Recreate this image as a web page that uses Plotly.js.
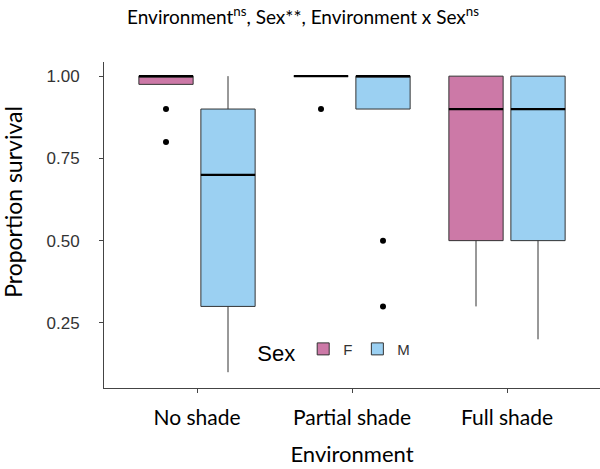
<!DOCTYPE html>
<html>
<head>
<meta charset="utf-8">
<script src="https://cdn.plot.ly/plotly-3.0.1.min.js"></script>
<style>
  html, body { margin: 0; padding: 0; background: #fff; }
  #chart { width: 600px; height: 469px; }
</style>
</head>
<body>
<div id="chart"></div>
<script>
// environments on the x axis
var environments = ["No shade", "Partial shade", "Full shade"];
var sexes = ["F", "M"];

// box stats per sex, one value per environment
var femaleQ1 = [0.975, 1.0, 0.5];
var femaleMedian = [1.0, 1.0, 0.9];
var femaleQ3 = [1.0, 1.0, 1.0];
var femaleLower = [0.975, 1.0, 0.3];
var femaleUpper = [1.0, 1.0, 1.0];
var femaleOutliers = [[0.9, 0.8], [0.9], []];

var maleQ1 = [0.3, 0.9, 0.5];
var maleMedian = [0.7, 1.0, 0.9];
var maleQ3 = [0.9, 1.0, 1.0];
var maleLower = [0.1, 0.9, 0.2];
var maleUpper = [1.0, 1.0, 1.0];
var maleOutliers = [[], [0.5, 0.3], []];

var yTicks = [0.25, 0.5, 0.75, 1.0];

var colors = { F: "#CC79A7", M: "#9BD0F2" };
var offset = { F: -0.2, M: 0.2 };
var boxWidth = 0.35;
var labelFont = "Lato, Open Sans, sans-serif";
var sansFont = "Liberation Sans, Arial, sans-serif";

var stats = {
  F: { q1: femaleQ1, med: femaleMedian, q3: femaleQ3, lo: femaleLower, hi: femaleUpper, out: femaleOutliers },
  M: { q1: maleQ1, med: maleMedian, q3: maleQ3, lo: maleLower, hi: maleUpper, out: maleOutliers },
};

var idx = environments.map((_, i) => i);
var traces = [];

for (var s of sexes) {
  var st = stats[s];
  traces.push({
    type: "box",
    name: s,
    x: idx.map((i) => i + offset[s]),
    q1: st.q1, median: st.med, q3: st.q3,
    lowerfence: st.lo, upperfence: st.hi,
    width: boxWidth,
    whiskerwidth: 0,
    fillcolor: colors[s],
    line: { color: "#333333", width: 1 },
    boxpoints: false,
    hoverinfo: "skip",
  });
}

// thick black median lines
for (var s of sexes) {
  var st = stats[s];
  var mx = [], my = [];
  idx.forEach((i) => {
    mx.push(i + offset[s] - boxWidth / 2, i + offset[s] + boxWidth / 2, null);
    my.push(st.med[i], st.med[i], null);
  });
  traces.push({
    type: "scatter", mode: "lines", x: mx, y: my,
    line: { color: "#000", width: 2.2 },
    showlegend: false, hoverinfo: "skip",
  });
}

// outlier points
for (var s of sexes) {
  var st = stats[s];
  var ox = [], oy = [];
  idx.forEach((i) => {
    st.out[i].forEach((v) => { ox.push(i + offset[s]); oy.push(v); });
  });
  traces.push({
    type: "scatter", mode: "markers", x: ox, y: oy,
    marker: { color: "#000", size: 6 },
    showlegend: false, hoverinfo: "skip",
  });
}

var layout = {
  width: 600,
  height: 469,
  margin: { l: 104, r: 0, t: 62, b: 81 },
  paper_bgcolor: "#fff",
  plot_bgcolor: "#fff",
  showlegend: true,
  boxmode: "overlay",
  title: {
    text: "Environment<sup>ns</sup>, Sex**, Environment x Sex<sup>ns</sup>",
    font: { family: labelFont, size: 19, color: "#000" },
    x: 0.505, xanchor: "center",
    y: 0.963, yref: "container", yanchor: "middle",
  },
  xaxis: {
    range: [-0.6, 2.6],
    tickvals: idx,
    ticktext: environments,
    showgrid: false, zeroline: false,
    showline: true, linecolor: "#444", linewidth: 1,
    ticks: "outside", ticklen: 4, tickcolor: "#444",
    ticklabelstandoff: 7,
    tickfont: { family: labelFont, size: 21, color: "#000" },
    title: {
      text: "Environment",
      font: { family: labelFont, size: 22, color: "#000" },
      standoff: 18,
    },
  },
  yaxis: {
    range: [0.052, 1.043],
    tickvals: yTicks,
    tickformat: ".2f",
    showgrid: false, zeroline: false,
    showline: true, linecolor: "#444", linewidth: 1,
    ticks: "outside", ticklen: 4, tickcolor: "#444",
    ticklabelstandoff: 16,
    tickfont: { family: sansFont, size: 17, color: "#333" },
  },
  annotations: [{
    text: "Proportion survival",
    textangle: -90,
    xref: "paper", yref: "paper",
    x: 0, xshift: -91, xanchor: "center",
    y: 0.571, yanchor: "middle",
    showarrow: false,
    font: { family: labelFont, size: 23, color: "#000" },
  }],
  legend: {
    orientation: "h",
    x: 0.305, xanchor: "left",
    y: 0.11, yanchor: "middle",
    bgcolor: "rgba(0,0,0,0)",
    title: { text: "Sex", font: { family: sansFont, size: 22, color: "#000" } },
    font: { family: sansFont, size: 15, color: "#333" },
    itemwidth: 30,
  },
};

Plotly.newPlot("chart", traces, layout, { displayModeBar: false, staticPlot: true });
</script>
</body>
</html>
